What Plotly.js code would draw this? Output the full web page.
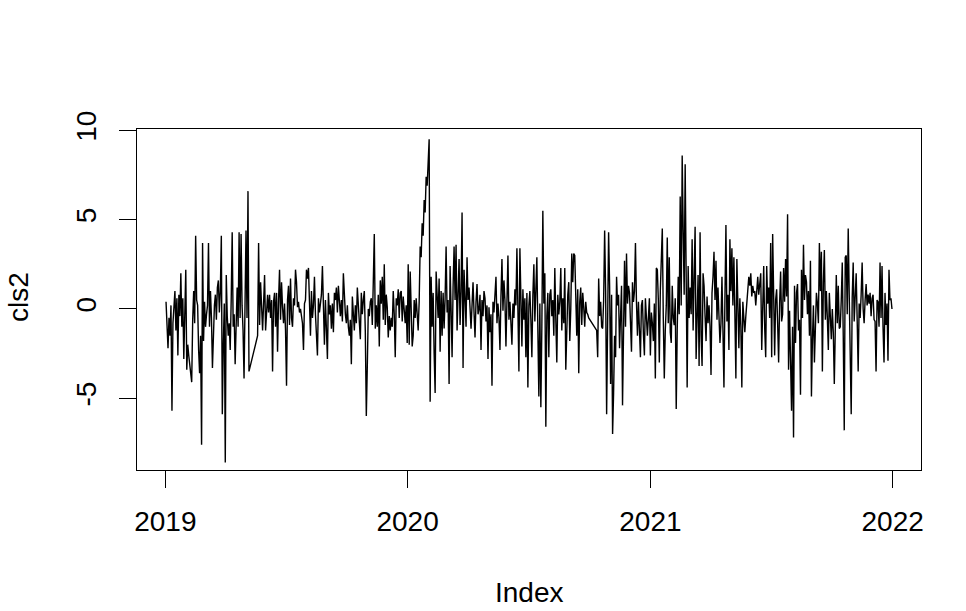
<!DOCTYPE html>
<html>
<head>
<meta charset="utf-8">
<script src="https://cdn.plot.ly/plotly-3.0.1.min.js"></script>
<style>html,body{margin:0;padding:0;background:#fff;}#chart{width:966px;height:611px;}</style>
</head>
<body>
<div id="chart"></div>
<script>
// Segment date bounds (trading-day index runs evenly within each segment)
const segStart = ['2019-01-02', '2019-05-20', '2020-10-12'];
const segEnd   = ['2019-05-07', '2020-09-30', '2021-12-31'];

// cls2 values, segment A (Jan - early May 2019)
const clsA = [0.4,-1.1,-2.2,-0.5,-1.5,0.2,-5.7,-0.8,0.5,1.0,
 -1.2,0.6,-2.6,0.8,-0.4,2.0,-1.0,0.6,-2.8,0.2,
 2.2,-3.4,-2.0,-2.6,-3.0,-3.6,-4.1,-0.6,1.0,-0.8,
 4.1,0.5,0.2,-2.3,-3.6,-1.5,-7.6,3.7,-1.8,0.4,
 -1.0,-0.3,0.2,3.7,-1.0,1.0,-0.5,-3.3,-1.0,0.2,
 0.8,-0.6,1.2,1.6,-0.2,1.0,4.1,-5.9,-2.0,0.3,
 -8.6,1.9,-0.4,-1.5,-0.8,-2.3,0.5,4.3,-1.0,-0.3,
 -3.1,-1.4,1.2,-1.0,4.3,-0.5,4.2,0.2,-1.2,-3.9,
 0.6,4.4,-0.5,6.6,-3.5];

// segment B (late May 2019 - Sep 2020)
const clsB1 = [-1.5,3.7,-0.9,1.5,-0.5,-1.2,0.3,1.9,-1.2,0.2,0.8,-0.2,0.8,-0.5,0.5,-3.5,0.4,0.9,-1.0,0.9,
 -2.4,0.5,2.2,-0.6,1.5,0.1,-0.8,0.3,-1.2,-4.3,0.5,1.3,-0.9,1.7,-0.5,-1.0,0.6,0.2,2.2,1.5,
 0.1,0.4,-0.2,0.0,-0.5,-0.8,-2.3,0.3,0.5,2.2,1.7,2.3,0.4,-1.5,1.0,-0.5,0.2,1.8,-0.3,-1.6,
 -2.6,0.6,-0.2,0.3,0.8,2.4,-1.0,-2.0,0.5,-0.7,-2.8,0.9,-0.3,0.2,-1.1,0.3,-1.3,0.9,0.5,1.2,
 -0.2,1.3,0.6,-0.4,0.5,-0.7,2.0];
const clsB2 = [0.3,-0.3,-0.8,0.2,-1.0,-1.5,-0.6,-3.1,0.7,-0.5,-1.2,0.2,-0.8,1.2,0.0,-0.5,-1.7,0.9,-0.3,0.5,
 1.0,-1.3,-6.0,-3.2,0.0,-0.4,0.4,0.6,-0.9,1.5,4.2,-1.1,0.2,-1.0,0.8,-2.1,1.6,0.3,1.8,-0.6,
 2.5,-0.9,0.8,0.1,-1.6,-0.4,-1.2,-0.5,-1.0,1.0,-0.3,-2.7,0.6,0.2,1.1,-0.5,0.9,1.0,-0.7,0.7,
 -0.2,-0.8,0.2,-1.9,2.5,-2.0,2.1,0.3,-2.1,-1.5,0.5,-0.5,0.6,-0.3,-1.2,0.4,3.5,2.9,4.8,4.1,
 6.1,5.4,7.4,6.9,8.8,9.5,-5.2];
const clsB3 = [1.8,-1.0,0.9,-2.5,-4.7,2.1,0.3,-0.5,1.7,-2.4,1.0,-1.5,0.9,-1.1,0.6,3.5,-0.2,0.5,-4.2,2.4,
 0.0,-2.7,1.2,3.5,0.5,3.6,-1.2,2.0,2.8,-0.9,1.0,5.4,-3.3,2.2,0.3,-1.0,2.9,0.5,1.2,-0.5,
 -1.1,0.2,1.5,-0.2,-1.6,0.4,1.4,-0.3,0.0,0.8,-2.3,0.5,-0.4,1.0,0.6,-0.7,0.2,-2.8,0.1,-1.3,
 -0.3,-4.3,0.4,-0.2,0.8,1.8,-0.8,0.3,-0.5,-2.3,0.7,2.8,-0.1,1.6,0.5,-2.1,0.4,3.0,-0.6,0.4,
 -0.8,-2.0,0.3,-0.5,1.1,0.2,3.4,-0.6,-3.5];
const clsB4 = [3.4,1.0,-2.1,1.1,-0.6,0.6,-2.7,0.9,-4.4,0.2,1.0,-0.6,-2.7,0.8,2.5,-0.7,0.7,2.9,-1.2,-4.9,
 0.3,-5.5,-1.0,5.5,0.3,2.0,-6.6,-0.4,0.9,-2.7,0.8,1.1,-0.4,0.5,-1.5,2.3,-0.6,-3.0,0.8,-0.3,
 0.4,2.3,-1.2,0.6,-0.8,2.3,-3.4,-1.0,0.8,1.5,-1.8,0.0,3.1,1.5,3.1,3.0,-0.6,-1.5,1.1,-3.6,
 0.4,1.2,-0.9,0.9,0.1,-1.0,0.4,-0.2,-0.3,-0.5];

// segment C (Oct 2020 - Dec 2021)
const clsC1 = [-1.2,-2.7,1.7,-0.4,0.4,-1.0,-1.1,0.5,4.4,1.0,-5.9,0.5,4.3,1.3,-4.2,0.8,-7.0,-4.7,-1.5,-2.7,
 1.8,0.2,0.8,-2.2,0.5,1.3,-5.4,-0.3,2.7,-1.0,3.1,0.3,1.3,0.9,-0.5,-2.4,1.5,0.4,1.0,3.7,
 0.4,-1.5,0.4,-0.8,-2.7,0.2,0.5,-1.4,-2.6,0.6,-0.8,-1.5,-0.5,0.6,-2.6,-0.2,-0.8,-1.8,0.3,-3.9,
 2.3,2.2,0.5,-3.0,1.0,3.7,4.5,-0.5,-3.9,-1.2,0.2,4.0,-0.8,2.9,-1.3,-1.9,1.3,-0.5,-0.9,0.6,
 -5.6,-1.2,1.8,-0.3,6.3,0.2,8.6,4.4,0.8,8.1,-1.5,-4.4,2.4,-0.5,1.2,-0.3,3.9,-1.2,1.8,4.6,
 -2.8,-0.5,1.9,-3.2,4.3,-1.5,-3.2,2.0];
const clsC2 = [1.3,-0.4,-1.8,0.7,-0.8,0.2,-1.0,-3.7,0.9,1.8,3.2,0.5,2.7,-0.6,1.2,-0.4,-1.9,-0.8,1.8,-1.2,
 -4.4,0.6,4.7,-0.7,0.8,-2.3,3.9,1.0,3.4,0.2,2.9,-0.3,-3.9,2.8,-0.2,-2.2,0.6,-1.0,-4.4,0.4,
 -0.5,-1.3,-0.4,0.2,1.1,1.8,1.3,2.0,0.7,1.3,0.9,1.0,0.2,1.3,1.8,0.8,1.5,2.0,-2.3,0.4,
 2.4,-1.1,-2.7,2.4,0.3,1.2,-0.5,3.7,-2.7,4.2,-1.1,-2.6,0.5,1.1,-0.8,-3.0,0.3,2.1,-0.7,-0.3,
 2.3,0.4,2.8,0.7,5.3,-3.4,-0.1,-2.2,-5.7,-1.0,-7.2];
const clsC3 = [1.3,-1.9,0.9,1.4,-1.2,-0.6,-4.8,2.2,-0.5,3.6,0.5,1.9,1.5,-0.3,1.0,-1.5,2.7,-4.9,-1.7,0.2,
 -3.0,-0.7,0.9,0.3,-0.8,3.7,1.0,3.2,-3.5,1.5,3.3,-0.6,1.0,-0.5,-2.3,0.9,-0.3,-1.7,0.0,-1.3,
 -4.2,0.3,1.9,-0.8,1.3,-1.1,-1.0,0.5,2.6,-1.5,-6.8,2.9,3.0,-0.3,4.5,0.8,-3.4,-5.9,0.6,2.6,
 -0.7,0.4,2.0,-0.6,-3.5,0.3,-0.5,0.8,2.6,0.0,-0.8,0.5,1.4,0.2,0.8,0.3,0.9,-0.4,0.6,0.8,
 -0.6,-0.7,-3.5,0.5,0.4,-1.0,2.6,-0.5,2.4,-1.0,-3.0,0.9,-0.9,0.3,-2.9,2.2,0.5,0.6,0.0];

const tickVals = ['2019-01-01', '2020-01-01', '2021-01-01', '2022-01-01'];
const tickText = ['2019', '2020', '2021', '2022'];
const yTickVals = [-5, 0, 5, 10];

const segments = [clsA, clsB1.concat(clsB2, clsB3, clsB4), clsC1.concat(clsC2, clsC3)];
const xs = [], ys = [];
segments.forEach((vals, s) => {
  const t0 = Date.parse(segStart[s] + 'T00:00:00Z');
  const t1 = Date.parse(segEnd[s] + 'T00:00:00Z');
  const n = vals.length;
  vals.forEach((v, i) => {
    xs.push(new Date(t0 + (t1 - t0) * i / (n - 1)).toISOString());
    ys.push(v);
  });
});

const font = {family: 'Liberation Sans, Arial, sans-serif', size: 28, color: '#000'};
const axisCommon = {
  showline: true, linecolor: '#000', linewidth: 1, mirror: true,
  ticks: 'outside', ticklen: 17, tickwidth: 1, tickcolor: '#000',
  showgrid: false, zeroline: false, tickfont: font, fixedrange: true
};

Plotly.newPlot('chart', [{
  x: xs, y: ys, type: 'scatter', mode: 'lines',
  line: {color: '#000', width: 1.4}, hoverinfo: 'skip'
}], {
  width: 966, height: 611,
  paper_bgcolor: '#fff', plot_bgcolor: '#fff',
  margin: {l: 137, r: 45, t: 129, b: 141},
  showlegend: false,
  xaxis: Object.assign({}, axisCommon, {
    type: 'date', range: ['2018-11-19 06:00', '2022-02-12 18:00'],
    tickmode: 'array', tickvals: tickVals, ticktext: tickText,
    ticklabelstandoff: 9
  }),
  yaxis: Object.assign({}, axisCommon, {
    range: [-9.02, 10.08], tickmode: 'array', tickvals: yTickVals,
    ticktext: yTickVals.map(String), tickangle: -90, ticklabelstandoff: 12
  }),
  annotations: [
    {text: 'Index', xref: 'paper', yref: 'paper', x: 0.5, y: -0.358,
     xanchor: 'center', yanchor: 'middle', showarrow: false, font: font},
    {text: 'cls2', xref: 'paper', yref: 'paper', x: -0.152, y: 0.507, textangle: -90,
     xanchor: 'center', yanchor: 'middle', showarrow: false, font: font}
  ]
}, {staticPlot: true});
</script>
</body>
</html>
